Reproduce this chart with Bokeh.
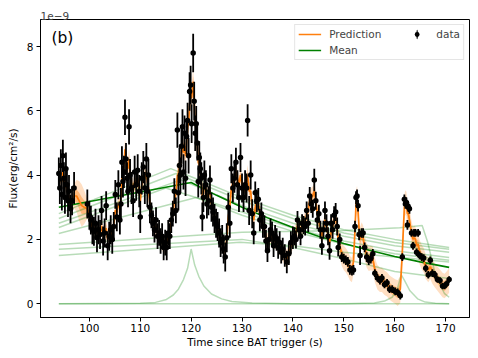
import numpy as np
from bokeh.plotting import figure
from bokeh.models import ColumnDataSource, Legend, LegendItem, Label, Range1d, FixedTicker
from bokeh.embed import file_html
from bokeh.resources import INLINE

# ---------------- data (flux in units of 1e-9 erg/cm^2/s) ----------------
t_data = [94.0, 94.2, 94.4, 94.6, 94.8, 95.0, 95.2, 95.4, 95.6, 95.8, 96.0, 96.3, 96.6, 97.0,
          99.6, 100.0, 100.3, 100.6, 100.9, 101.2, 101.5, 101.8, 102.1, 102.4, 102.7, 103.0, 103.3, 103.6,
          103.9, 104.2, 104.5, 104.8, 105.1, 105.4, 105.7, 106.0,
          106.2, 106.4, 106.6, 106.8, 107.0, 107.2, 107.4, 107.6, 107.8, 108.0, 108.3, 108.6, 108.9, 109.2,
          109.5, 109.8, 110.0, 110.3, 110.6, 110.9, 111.2, 111.4, 111.6, 111.9,
          112.2, 112.5, 112.8, 113.1, 113.4, 113.7, 114.0, 114.3, 114.6, 114.9, 115.2, 115.5, 115.8, 116.1,
          116.4, 116.7, 117.0,
          117.3, 117.5, 117.7, 117.9, 118.1, 118.3, 118.5, 118.7, 118.9, 119.1, 119.3, 119.5, 119.7, 119.9,
          120.1, 120.4, 120.6, 120.8, 121.0, 121.2, 121.4, 121.6, 121.8, 122.0,
          122.2, 122.4, 122.6, 122.9, 123.1, 123.4, 123.7, 124.0, 124.3, 124.6, 124.9, 125.2, 125.5, 125.8,
          126.1, 126.4, 126.7, 127.0, 127.3, 127.6, 127.9, 128.2, 128.5, 128.8, 129.1, 129.4, 129.7, 130.0,
          130.3, 130.6, 130.9, 131.1, 131.4, 131.7, 132.0,
          132.3, 132.6, 132.9, 133.2, 133.5, 133.8, 134.1, 134.4, 134.7, 135.0, 135.3, 135.6, 135.9, 136.2,
          136.5, 136.8, 137.1, 137.4, 137.7, 138.0, 138.4, 138.8, 139.2, 139.6, 140.0,
          140.3, 140.6, 140.9, 141.2, 141.5, 141.8, 142.1, 142.4, 142.7, 143.0, 143.3, 143.6, 143.9, 144.2,
          144.5, 144.8, 145.1, 145.4, 145.7, 146.0, 146.3, 146.6, 146.9, 147.2, 147.5, 147.8, 148.1, 148.4,
          148.7, 148.9,
          149.2, 149.6, 150.0, 150.4, 150.8, 151.2, 151.6, 151.9, 152.2, 152.4, 152.6, 152.8, 153.0, 153.2,
          153.5, 153.8, 154.1, 154.5, 154.9, 155.3, 155.7, 156.1, 156.6, 157.1, 157.5, 158.0, 158.5, 159.0,
          159.5, 160.1, 160.6, 161.1,
          161.5, 161.9, 162.1, 162.3, 162.5, 162.7, 162.9, 163.3, 163.6, 163.8, 164.1, 164.3, 164.6, 164.9,
          165.3, 165.7, 166.1, 166.6, 167.0, 167.4, 167.9, 168.4, 168.9, 169.4, 169.8, 170.2, 170.7]

flux = [4.05, 3.6, 4.3, 3.4, 4.6, 3.9, 3.3, 4.2, 3.7, 3.2, 3.5, 2.95, 3.2, 3.6,
        3.1, 2.75, 2.6, 2.3, 2.25, 2.5, 2.05, 2.3, 2.15, 2.9, 1.95, 2.2, 3.05, 1.8,
        2.1, 2.3, 2.0, 2.4, 3.4, 2.7, 3.7, 2.6,
        3.1, 4.4, 3.8, 4.1, 5.8, 4.5, 3.9, 3.5, 5.5, 4.0, 3.6, 3.2, 4.1, 3.7,
        4.15, 3.5, 2.7, 3.9, 4.25, 3.6, 4.5, 3.5, 4.0, 3.0,
        2.75, 2.5, 2.3, 2.6, 2.1, 2.2, 1.95, 2.1, 1.75, 1.9, 1.75, 2.2, 2.1, 2.6,
        2.8, 3.5, 2.9,
        5.4, 3.45, 4.3, 4.0, 4.9, 5.5, 4.1, 5.3, 3.9, 5.2, 5.7, 4.6, 6.6, 6.8,
        5.6, 7.8, 6.3, 5.3, 5.6, 5.0, 3.8, 4.55, 4.2, 3.9,
        2.7, 3.3, 4.0, 3.7, 3.1, 3.2, 3.85, 3.0, 2.85, 2.65, 2.5, 2.4, 2.2, 1.9,
        2.0, 1.7, 1.45, 2.05, 3.0, 2.5, 4.2, 3.6, 3.9, 4.4, 3.7, 3.3, 4.55, 3.6,
        3.3, 3.7, 3.6, 5.7, 2.9, 4.0, 2.8,
        2.2, 3.45, 3.2, 3.25, 2.6, 2.8, 2.4, 2.4, 1.95, 1.65, 2.0, 2.3, 2.2, 1.8,
        2.1, 2.0, 1.75, 1.9, 1.6, 1.7, 1.5, 1.3, 1.55, 1.9, 2.05,
        2.1, 2.0, 2.6, 2.3, 2.1, 2.5, 2.45, 2.4, 2.9, 2.5, 3.35, 3.1, 2.95, 3.85,
        3.2, 2.6, 2.8, 2.3, 1.8, 2.3, 2.9, 2.5, 2.1, 1.65, 2.5, 2.3, 2.75, 2.85,
        2.4, 1.75,
        2.0, 1.45, 1.4, 1.35, 1.3, 1.05, 1.03, 1.05, 2.4, 3.3, 3.35, 3.05, 2.15, 1.5,
        2.2, 2.2, 1.75, 1.45, 1.35, 1.4, 1.55, 0.95, 0.8, 0.72, 0.8, 0.6, 0.65, 0.45,
        0.45, 0.38, 0.35, 0.25,
        1.45, 3.25, 3.1, 3.15, 2.45, 3.0, 2.95, 2.2, 1.8, 2.2, 2.2, 1.6, 2.2, 1.5,
        1.45, 1.42, 1.1, 0.9, 1.35, 0.95, 0.9, 0.75, 0.72, 0.55, 0.55, 0.62, 0.75]

flux_err = [0.5, 0.5, 0.5, 0.5, 0.5, 0.5, 0.5, 0.5, 0.5, 0.5, 0.5, 0.45, 0.45, 0.5,
            0.45, 0.45, 0.45, 0.45, 0.45, 0.45, 0.45, 0.45, 0.45, 0.45, 0.45, 0.45, 0.45, 0.45,
            0.45, 0.45, 0.45, 0.45, 0.45, 0.45, 0.45, 0.45,
            0.5, 0.5, 0.5, 0.5, 0.55, 0.5, 0.5, 0.5, 0.55, 0.5, 0.5, 0.5, 0.5, 0.5,
            0.5, 0.5, 0.5, 0.5, 0.5, 0.5, 0.5, 0.5, 0.5, 0.5,
            0.4, 0.4, 0.4, 0.4, 0.4, 0.4, 0.4, 0.4, 0.4, 0.4, 0.4, 0.4, 0.4, 0.4,
            0.4, 0.4, 0.4,
            0.55, 0.55, 0.55, 0.55, 0.55, 0.55, 0.55, 0.55, 0.55, 0.55, 0.55, 0.55, 0.6, 0.6,
            0.6, 0.6, 0.6, 0.55, 0.55, 0.55, 0.5, 0.5, 0.5, 0.5,
            0.45, 0.45, 0.45, 0.45, 0.45, 0.45, 0.45, 0.45, 0.45, 0.45, 0.45, 0.45, 0.45, 0.45,
            0.45, 0.45, 0.45, 0.45, 0.45, 0.45, 0.45, 0.45, 0.45, 0.45, 0.45, 0.45, 0.45, 0.45,
            0.45, 0.45, 0.45, 0.5, 0.45, 0.45, 0.45,
            0.35, 0.35, 0.35, 0.35, 0.35, 0.35, 0.35, 0.35, 0.35, 0.35, 0.35, 0.35, 0.35, 0.35,
            0.35, 0.35, 0.35, 0.35, 0.35, 0.35, 0.35, 0.35, 0.35, 0.35, 0.35,
            0.28, 0.28, 0.28, 0.28, 0.28, 0.28, 0.28, 0.28, 0.28, 0.28, 0.28, 0.28, 0.28, 0.35,
            0.28, 0.28, 0.28, 0.28, 0.28, 0.28, 0.28, 0.28, 0.28, 0.28, 0.28, 0.28, 0.28, 0.28,
            0.28, 0.28,
            0.18, 0.15, 0.15, 0.15, 0.15, 0.15, 0.15, 0.15, 0.18, 0.2, 0.2, 0.18, 0.18, 0.3,
            0.15, 0.15, 0.15, 0.15, 0.15, 0.15, 0.15, 0.12, 0.12, 0.12, 0.12, 0.12, 0.12, 0.12,
            0.12, 0.12, 0.12, 0.12,
            0.12, 0.15, 0.15, 0.15, 0.15, 0.15, 0.15, 0.12, 0.12, 0.12, 0.12, 0.12, 0.12, 0.12,
            0.12, 0.12, 0.12, 0.12, 0.12, 0.12, 0.12, 0.1, 0.1, 0.1, 0.1, 0.1, 0.1]

# GP prediction (mean and 1-sigma) on a time grid
t_pred = [94.0, 94.2, 94.4, 94.6, 94.8, 95.0, 95.2, 95.4, 95.6, 95.8, 96.0, 96.3, 96.6, 97.0,
          97.5, 98.0, 98.5, 99.0,
          99.6, 100.0, 100.3, 100.6, 100.9, 101.2, 101.5, 101.8, 102.1, 102.4, 102.7, 103.0, 103.3, 103.6,
          103.9, 104.2, 104.5, 104.8, 105.1, 105.4, 105.7, 106.0,
          106.2, 106.4, 106.6, 106.8, 107.0, 107.2, 107.4, 107.6, 107.8, 108.0, 108.3, 108.6, 108.9, 109.2,
          109.5, 109.8, 110.0, 110.3, 110.6, 110.9, 111.2, 111.4, 111.6, 111.9,
          112.2, 112.5, 112.8, 113.1, 113.4, 113.7, 114.0, 114.3, 114.6, 114.9, 115.2, 115.5, 115.8, 116.1,
          116.4, 116.7, 117.0,
          117.3, 117.5, 117.7, 117.9, 118.1, 118.3, 118.5, 118.7, 118.9, 119.1, 119.3, 119.5, 119.7, 119.9,
          120.1, 120.4, 120.6, 120.8, 121.0, 121.2, 121.4, 121.6, 121.8, 122.0,
          122.2, 122.4, 122.6, 122.9, 123.1, 123.4, 123.7, 124.0, 124.3, 124.6, 124.9, 125.2, 125.5, 125.8,
          126.1, 126.4, 126.7, 127.0, 127.3, 127.6, 127.9, 128.2, 128.5, 128.8, 129.1, 129.4, 129.7, 130.0,
          130.3, 130.6, 130.9, 131.1, 131.4, 131.7, 132.0,
          132.3, 132.6, 132.9, 133.2, 133.5, 133.8, 134.1, 134.4, 134.7, 135.0, 135.3, 135.6, 135.9, 136.2,
          136.5, 136.8, 137.1, 137.4, 137.7, 138.0, 138.4, 138.8, 139.2, 139.6, 140.0,
          140.3, 140.6, 140.9, 141.2, 141.5, 141.8, 142.1, 142.4, 142.7, 143.0, 143.3, 143.6, 143.9, 144.2,
          144.5, 144.8, 145.1, 145.4, 145.7, 146.0, 146.3, 146.6, 146.9, 147.2, 147.5, 147.8, 148.1, 148.4,
          148.7, 148.9,
          149.2, 149.6, 150.0, 150.4, 150.8, 151.2, 151.6, 151.9, 152.2, 152.4, 152.6, 152.8, 153.0, 153.2,
          153.5, 153.8, 154.1, 154.5, 154.9, 155.3, 155.7, 156.1, 156.6, 157.1, 157.5, 158.0, 158.5, 159.0,
          159.5, 160.1, 160.6, 161.1,
          161.5, 161.9, 162.1, 162.3, 162.5, 162.7, 162.9, 163.3, 163.6, 163.8, 164.1, 164.3, 164.6, 164.9,
          165.3, 165.7, 166.1, 166.6, 167.0, 167.4, 167.9, 168.4, 168.9, 169.4, 169.8, 170.2, 170.7]

pred = [3.9, 3.85, 3.9, 3.8, 4.1, 3.9, 3.6, 3.85, 3.6, 3.35, 3.3, 3.1, 3.2, 3.35,
        3.35, 3.2, 3.05, 3.0,
        2.95, 2.75, 2.55, 2.35, 2.3, 2.35, 2.2, 2.25, 2.2, 2.4, 2.15, 2.2, 2.35, 2.0,
        2.1, 2.2, 2.15, 2.45, 2.9, 2.85, 3.1, 3.0,
        3.3, 3.9, 4.0, 4.3, 4.8, 4.6, 4.3, 4.2, 4.5, 4.1, 3.7, 3.5, 3.8, 3.8,
        3.9, 3.5, 3.2, 3.7, 4.0, 3.9, 4.1, 3.8, 3.6, 3.1,
        2.8, 2.55, 2.4, 2.4, 2.2, 2.15, 2.0, 1.95, 1.8, 1.85, 1.9, 2.1, 2.25, 2.5,
        2.8, 3.2, 3.4,
        4.0, 4.0, 4.2, 4.3, 4.7, 5.0, 4.7, 4.9, 4.6, 5.0, 5.5, 5.6, 6.2, 6.5,
        6.4, 6.9, 6.3, 5.6, 5.4, 5.0, 4.4, 4.3, 4.1, 3.8,
        3.3, 3.4, 3.7, 3.6, 3.3, 3.4, 3.5, 3.1, 2.9, 2.7, 2.5, 2.4, 2.2, 2.0,
        1.9, 1.7, 1.6, 2.0, 2.7, 3.0, 3.6, 3.7, 3.9, 4.1, 3.9, 3.7, 4.0, 3.7,
        3.5, 3.6, 3.8, 4.0, 3.5, 3.5, 3.0,
        2.6, 3.0, 3.2, 3.1, 2.8, 2.65, 2.45, 2.3, 2.05, 1.9, 2.0, 2.15, 2.1, 1.95,
        2.0, 1.95, 1.8, 1.8, 1.65, 1.6, 1.45, 1.4, 1.55, 1.8, 2.0,
        2.1, 2.2, 2.4, 2.35, 2.3, 2.4, 2.45, 2.55, 2.75, 2.9, 3.2, 3.3, 3.35, 3.5,
        3.2, 2.8, 2.6, 2.3, 2.1, 2.3, 2.6, 2.45, 2.1, 1.9, 2.2, 2.4, 2.6, 2.7,
        2.3, 2.0,
        1.8, 1.55, 1.42, 1.35, 1.25, 1.1, 1.05, 1.3, 2.3, 3.1, 3.25, 2.9, 2.3, 2.0,
        2.15, 2.05, 1.75, 1.5, 1.4, 1.42, 1.4, 1.05, 0.82, 0.74, 0.74, 0.65, 0.6, 0.5,
        0.44, 0.38, 0.33, 0.45,
        1.6, 3.0, 3.15, 3.1, 2.8, 2.8, 2.6, 2.2, 2.0, 2.05, 2.0, 1.8, 1.85, 1.6,
        1.45, 1.35, 1.15, 1.05, 1.15, 1.0, 0.88, 0.78, 0.68, 0.58, 0.55, 0.62, 0.72]

pred_sd = [0.3, 0.3, 0.3, 0.3, 0.3, 0.3, 0.3, 0.3, 0.3, 0.3, 0.3, 0.3, 0.32, 0.38,
           0.5, 0.62, 0.66, 0.52,
           0.3, 0.28, 0.28, 0.28, 0.28, 0.28, 0.28, 0.28, 0.28, 0.28, 0.28, 0.28, 0.28, 0.28,
           0.28, 0.28, 0.28, 0.28, 0.28, 0.28, 0.28, 0.28,
           0.32, 0.32, 0.32, 0.32, 0.32, 0.32, 0.32, 0.32, 0.32, 0.32, 0.32, 0.32, 0.32, 0.32,
           0.32, 0.32, 0.32, 0.32, 0.32, 0.32, 0.32, 0.32, 0.32, 0.32,
           0.28, 0.28, 0.28, 0.28, 0.28, 0.28, 0.28, 0.28, 0.28, 0.28, 0.28, 0.28, 0.28, 0.28,
           0.28, 0.28, 0.3,
           0.38, 0.38, 0.38, 0.38, 0.38, 0.38, 0.38, 0.38, 0.38, 0.38, 0.38, 0.38, 0.42, 0.42,
           0.42, 0.42, 0.42, 0.38, 0.38, 0.38, 0.32, 0.32, 0.32, 0.32,
           0.28, 0.28, 0.28, 0.28, 0.28, 0.28, 0.28, 0.28, 0.28, 0.28, 0.28, 0.28, 0.28, 0.28,
           0.28, 0.28, 0.28, 0.28, 0.28, 0.28, 0.28, 0.28, 0.28, 0.28, 0.28, 0.28, 0.28, 0.28,
           0.28, 0.28, 0.28, 0.32, 0.28, 0.28, 0.28,
           0.28, 0.28, 0.28, 0.28, 0.28, 0.28, 0.28, 0.28, 0.28, 0.28, 0.28, 0.28, 0.28, 0.28,
           0.28, 0.28, 0.28, 0.28, 0.28, 0.28, 0.28, 0.28, 0.28, 0.28, 0.28,
           0.3, 0.3, 0.3, 0.3, 0.3, 0.3, 0.3, 0.3, 0.3, 0.3, 0.3, 0.3, 0.3, 0.3,
           0.3, 0.3, 0.3, 0.3, 0.3, 0.3, 0.3, 0.3, 0.3, 0.3, 0.3, 0.3, 0.3, 0.3,
           0.32, 0.34,
           0.38, 0.38, 0.38, 0.38, 0.38, 0.38, 0.38, 0.38, 0.4, 0.42, 0.42, 0.4, 0.38, 0.38,
           0.38, 0.38, 0.38, 0.38, 0.38, 0.38, 0.38, 0.38, 0.38, 0.38, 0.38, 0.38, 0.38, 0.38,
           0.38, 0.38, 0.4, 0.42,
           0.45, 0.4, 0.38, 0.38, 0.38, 0.38, 0.38, 0.38, 0.38, 0.38, 0.38, 0.38, 0.38, 0.38,
           0.38, 0.38, 0.38, 0.38, 0.38, 0.38, 0.38, 0.38, 0.38, 0.38, 0.38, 0.38, 0.38]

# mean function of the GP
mean_t = [94.0, 120.0, 125.0, 130.0, 135.0, 140.0, 145.0, 150.0, 155.0, 160.0, 165.0, 170.7]
mean_f = [3.0, 3.77, 3.37, 3.0, 2.67, 2.37, 2.1, 1.87, 1.66, 1.47, 1.3, 1.13]

# individual mean-function samples
sample_t = [
    [94.0, 116.0, 120.0, 130.0, 140.0, 150.0, 160.0, 170.7],
    [94.0, 117.0, 130.0, 140.0, 150.0, 160.0, 170.7],
    [94.0, 118.0, 130.0, 140.0, 150.0, 160.0, 170.7],
    [94.0, 115.0, 130.0, 140.0, 150.0, 160.0, 170.7],
    [94.0, 121.0, 130.0, 140.0, 150.0, 160.0, 170.7],
    [94.0, 130.0, 150.0, 161.0, 165.4, 166.5, 168.0, 169.8, 170.7],
    [94.0, 130.0, 140.0, 150.0, 160.0, 170.7],
    [94.0, 129.6, 140.0, 150.0, 160.0, 170.7],
    [94.0, 110.0, 113.0, 115.0, 116.5, 117.5, 118.5, 119.3, 120.0, 120.7, 121.5, 122.5, 124.0,
     126.0, 128.0, 132.0, 140.0, 170.7],
    [94.0, 150.0, 156.0, 158.0, 159.5, 160.5, 161.3, 162.0, 163.0, 164.5, 166.0, 168.0, 170.7],
]
sample_f = [
    [2.8, 4.2, 3.95, 3.3, 2.75, 2.3, 2.0, 1.75],
    [2.65, 4.05, 3.2, 2.65, 2.2, 1.9, 1.69],
    [2.5, 3.85, 3.05, 2.5, 2.1, 1.8, 1.6],
    [2.37, 3.6, 2.85, 2.35, 1.95, 1.65, 1.44],
    [2.18, 3.3, 2.75, 2.25, 1.85, 1.55, 1.35],
    [1.84, 2.22, 2.28, 2.36, 2.43, 1.9, 0.9, 0.31, 0.2],
    [1.69, 2.0, 1.75, 1.4, 1.0, 0.78],
    [1.5, 1.91, 1.8, 1.6, 1.45, 1.3],
    [0.0, 0.01, 0.04, 0.12, 0.27, 0.45, 0.75, 1.1, 1.7, 1.2, 0.85, 0.55, 0.3,
     0.15, 0.07, 0.02, 0.0, 0.0],
    [0.0, 0.0, 0.02, 0.08, 0.2, 0.45, 0.9, 0.7, 0.4, 0.15, 0.05, 0.01, 0.0],
]

x_ticks = [100, 110, 120, 130, 140, 150, 160, 170]
y_ticks = [0, 2, 4, 6, 8]

# ---------------- figure ----------------
FONT = "DejaVu Sans"
p = figure(width=470, height=350, output_backend="svg", toolbar_location=None,
           x_range=Range1d(90.4, 174.7), y_range=Range1d(-0.43, 8.84),
           min_border_left=40, min_border_right=1, min_border_top=19, min_border_bottom=33)
p.grid.visible = False
p.outline_line_color = "black"
p.outline_line_width = 1
p.background_fill_color = "white"

p.title.text = "1e\u22129"
p.title.align = "left"
p.title.text_font = FONT
p.title.text_font_size = "10.5px"
p.title.text_font_style = "normal"
p.title.standoff = 0
p.title.offset = 0

for ax in (p.xaxis[0], p.yaxis[0]):
    ax.major_label_text_font = FONT
    ax.major_label_text_font_size = "10.5px"
    ax.major_label_text_color = "black"
    ax.axis_label_text_font = FONT
    ax.axis_label_text_font_size = "10.5px"
    ax.axis_label_text_font_style = "normal"
    ax.axis_label_text_color = "black"
    ax.major_tick_in = 0
    ax.major_tick_out = 4
    ax.minor_tick_in = 0
    ax.minor_tick_out = 0
    ax.axis_line_color = "black"
    ax.major_tick_line_color = "black"

p.xaxis.major_label_standoff = 2
p.xaxis.axis_label_standoff = 1
p.yaxis.major_label_standoff = 3
p.yaxis.axis_label_standoff = 5

p.xaxis.ticker = FixedTicker(ticks=x_ticks)
p.yaxis.ticker = FixedTicker(ticks=y_ticks)
p.xaxis.axis_label = "Time since BAT trigger (s)"
p.yaxis.axis_label = "Flux(erg/cm\u00b2/s)"

# prediction band
lo = [m - s for m, s in zip(pred, pred_sd)]
hi = [m + s for m, s in zip(pred, pred_sd)]
lo2 = [m - 0.4 * s for m, s in zip(pred, pred_sd)]
hi2 = [m + 0.4 * s for m, s in zip(pred, pred_sd)]
p.varea(x=t_pred, y1=lo, y2=hi, fill_color="#ff7f0e", fill_alpha=0.25)
p.varea(x=t_pred, y1=lo2, y2=hi2, fill_color="#ff7f0e", fill_alpha=0.4)

# sample lines
p.multi_line(xs=sample_t, ys=sample_f, line_color="green", line_alpha=0.28, line_width=1.5)

# mean
mean_r = p.line(mean_t, mean_f, line_color="green", line_width=1.6)

# prediction
pred_r = p.line(t_pred, pred, line_color="#ff7f0e", line_width=1.7)

# data with error bars
src = ColumnDataSource(dict(t=t_data, f=flux,
                            lo=[f - e for f, e in zip(flux, flux_err)],
                            hi=[f + e for f, e in zip(flux, flux_err)]))
p.segment(x0="t", y0="lo", x1="t", y1="hi", source=src, line_color="black", line_width=1.8)
pts_r = p.scatter("t", "f", source=src, size=5.5, fill_color="black", line_color=None)
# legend-only glyph: thin tall ellipse gives a vertical error-bar icon
bar_r = p.ellipse(x=[float("nan")], y=[float("nan")], width=1.6, height=11,
                  width_units="screen", height_units="screen",
                  fill_color="black", line_color=None)

legend = Legend(items=[LegendItem(label="Prediction      ", renderers=[pred_r]),
                       LegendItem(label="Mean", renderers=[mean_r]),
                       LegendItem(label="data", renderers=[bar_r, pts_r])],
                location="top_right", ncols=2)
legend.label_text_font = FONT
legend.label_text_font_size = "10.5px"
legend.label_height = 12
legend.glyph_height = 12
legend.glyph_width = 23
legend.label_standoff = 8
legend.spacing = 4
legend.padding = 3
legend.margin = 5
legend.border_line_color = "#cccccc"
legend.border_line_width = 1
legend.background_fill_alpha = 0.8
p.add_layout(legend)

p.add_layout(Label(x=92.55, y=8.27, text="(b)", text_font=FONT, text_font_size="15.5px",
                   text_baseline="middle", text_align="left", text_color="black"))

open("out.html", "w").write(file_html(p, INLINE))
